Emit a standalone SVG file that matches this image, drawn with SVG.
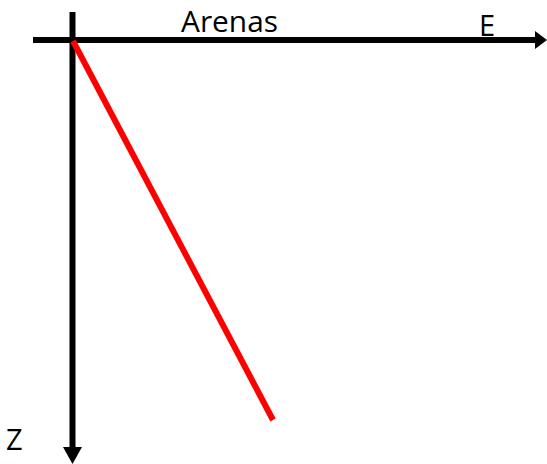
<svg xmlns="http://www.w3.org/2000/svg" width="547" height="464" viewBox="0 0 547 464">
<style>
.lbl{font-family:"Open Sans","Liberation Sans",sans-serif;font-size:29px;fill:#000}
.axis{stroke:#000;stroke-width:6;fill:none}
</style>
<rect width="547" height="464" fill="#fff"/>
<g id="connectors">
<line class="axis" x1="33" y1="40" x2="536" y2="40"/>
<polygon points="535,31 547,40 535,49" fill="#000"/>
<line class="axis" x1="72.5" y1="12" x2="72.5" y2="450"/>
<polygon points="63,447 82,447 72.5,464" fill="#000"/>
<line x1="73" y1="41" x2="273" y2="420" stroke="#ff0000" stroke-width="6"/>
</g>
<g id="labels">
<text class="lbl" x="181" y="32" textLength="97" lengthAdjust="spacingAndGlyphs">Arenas</text>
<text class="lbl" x="479" y="36">E</text>
<text class="lbl" x="6" y="450">Z</text>
</g>
</svg>
